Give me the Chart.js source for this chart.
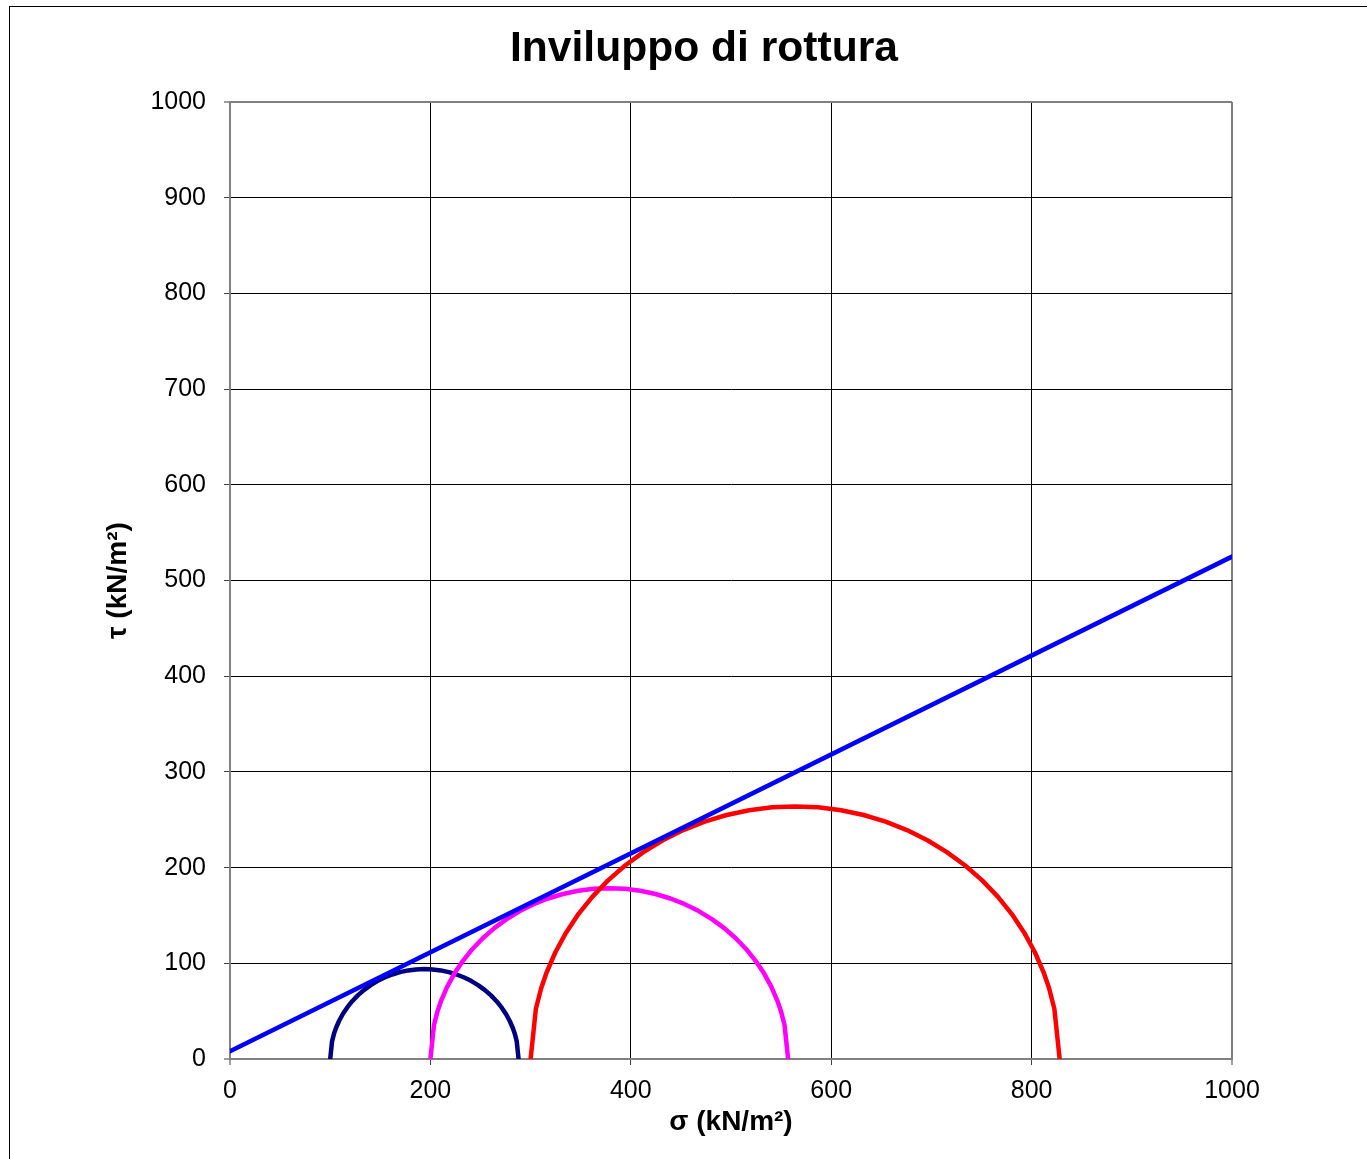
<!DOCTYPE html>
<html>
<head>
<meta charset="utf-8">
<script src="https://cdn.jsdelivr.net/npm/chart.js@4/dist/chart.umd.min.js"></script>
<style>
  html, body { margin: 0; padding: 0; background: #fff; }
  #wrap { position: relative; width: 1367px; height: 1159px; overflow: hidden; }
  #frame { position: absolute; left: 9px; top: 6px; width: 1400px; height: 1200px;
           border-left: 1px solid #000; border-top: 1px solid #000; pointer-events: none; }
  canvas { position: absolute; left: 0; top: 0; }
</style>
</head>
<body>
<div id="wrap">
  <canvas id="c" width="1367" height="1159"></canvas>
  <div id="frame"></div>
</div>
<script>
// ---- Data ----
const chartTitle = "Inviluppo di rottura";
const xAxisTitle = "σ (kN/m²)";
const yAxisTitle = "τ (kN/m²)";

const xTickValues = [0, 200, 400, 600, 800, 1000];
const yTickValues = [0, 100, 200, 300, 400, 500, 600, 700, 800, 900, 1000];

// Failure envelope (straight line)
const envelopeSigma = [0, 1000];
const envelopeTau   = [8, 525];

// Mohr circle 1 (navy): sigma3 = 100, sigma1 = 288
const circle1Sigma = [100, 101.88, 103.76, 105.67, 108.81, 112.59, 117.00, 121.99, 127.53, 133.58, 140.08, 147.00, 154.27, 161.85, 169.67, 177.68, 185.81, 194.00,
                      202.19, 210.32, 218.33, 226.15, 233.73, 241.00, 247.92, 254.42, 260.47, 266.01, 271.00, 275.41, 279.19, 282.33, 284.24, 286.12, 288];
const circle1Tau   = [0, 18.71, 26.32, 32.15, 39.73, 47.00, 53.92, 60.42, 66.47, 72.01, 77.00, 81.41, 85.19, 88.33, 90.80, 92.57, 93.64, 94.00,
                      93.64, 92.57, 90.80, 88.33, 85.19, 81.41, 77.00, 72.01, 66.47, 60.42, 53.92, 47.00, 39.73, 32.15, 26.32, 18.71, 0];

// Mohr circle 2 (magenta): sigma3 = 200, sigma1 = 557
const circle2Sigma = [200, 203.57, 207.14, 210.77, 216.72, 223.91, 232.28, 241.76, 252.28, 263.76, 276.12, 289.25, 303.06, 317.45, 332.30, 347.50, 362.94, 378.50,
                      394.06, 409.50, 424.70, 439.55, 453.94, 467.75, 480.88, 493.24, 504.72, 515.24, 524.72, 533.09, 540.28, 546.23, 549.86, 553.43, 557];
const circle2Tau   = [0, 35.52, 49.98, 61.05, 75.44, 89.25, 102.38, 114.74, 126.22, 136.74, 146.22, 154.59, 161.78, 167.73, 172.42, 175.79, 177.82, 178.50,
                      177.82, 175.79, 172.42, 167.73, 161.78, 154.59, 146.22, 136.74, 126.22, 114.74, 102.38, 89.25, 75.44, 61.05, 49.98, 35.52, 0];

// Mohr circle 3 (red): sigma3 = 300, sigma1 = 828
const circle3Sigma = [300, 305.28, 310.56, 315.92, 324.73, 335.37, 347.74, 361.77, 377.32, 394.30, 412.57, 432.00, 452.43, 473.71, 495.67, 518.16, 540.99, 564.00,
                      587.01, 609.84, 632.33, 654.29, 675.57, 696.00, 715.43, 733.70, 750.68, 766.23, 780.26, 792.63, 803.27, 812.08, 817.44, 822.72, 828];
const circle3Tau   = [0, 52.54, 73.92, 90.29, 111.57, 132.00, 151.43, 169.70, 186.68, 202.23, 216.26, 228.63, 239.27, 248.08, 255.01, 259.99, 262.99, 264.00,
                      262.99, 259.99, 255.01, 248.08, 239.27, 228.63, 216.26, 202.23, 186.68, 169.70, 151.43, 132.00, 111.57, 90.29, 73.92, 52.54, 0];

// ---- Build chart ----
function pts(xs, ys) { return xs.map((x, i) => ({ x: x, y: ys[i] })); }

const FONT = '"Liberation Sans", Arial, Helvetica, sans-serif';

function series(xs, ys, color) {
  return {
    data: pts(xs, ys),
    showLine: true,
    borderColor: color,
    backgroundColor: color,
    borderWidth: 4.5,
    pointRadius: 0,
    pointHoverRadius: 0,
    tension: 0,
    fill: false,
    borderCapStyle: 'round',
    borderJoinStyle: 'round'
  };
}

const edgeColor = (lim) => (ctx) => (ctx.tick && (ctx.tick.value === 0 || ctx.tick.value === lim)) ? '#808080' : '#000000';
const edgeWidth = (lim) => (ctx) => (ctx.tick && (ctx.tick.value === 0 || ctx.tick.value === lim)) ? 2 : 1;

// Centre the chart title over the whole figure (not only the plot column)
const titleCentre = {
  id: 'titleCentre',
  afterLayout(chart) {
    const tb = chart.titleBlock;
    if (tb) { tb.left = 0; tb.right = 1408; tb.width = 1408; }
  }
};

new Chart(document.getElementById('c'), {
  type: 'scatter',
  data: {
    datasets: [
      series(envelopeSigma, envelopeTau, '#0000FF'),
      series(circle3Sigma, circle3Tau, '#FF0000'),
      series(circle2Sigma, circle2Tau, '#FF00FF'),
      series(circle1Sigma, circle1Tau, '#000080')
    ]
  },
  plugins: [titleCentre],
  options: {
    responsive: false,
    animation: false,
    devicePixelRatio: 1,
    layout: { padding: { left: 0, right: 135, top: 0, bottom: 0 } },
    plugins: {
      legend: { display: false },
      tooltip: { enabled: false },
      title: {
        display: true,
        text: chartTitle,
        color: '#000',
        font: { family: FONT, size: 42.6, weight: 'bold', lineHeight: 1.2 },
        padding: { top: 24, bottom: 27 }
      }
    },
    scales: {
      x: {
        type: 'linear',
        min: 0, max: 1000,
        afterBuildTicks: (s) => { s.ticks = xTickValues.map(v => ({ value: v })); },
        afterFit: (s) => { s.height = 100; },
        ticks: {
          color: '#000',
          padding: 11,
          maxRotation: 0,
          font: { family: FONT, size: 25 },
          callback: (v) => String(v)
        },
        grid: {
          color: edgeColor(1000),
          lineWidth: edgeWidth(1000),
          tickLength: 6,
          tickColor: '#404040',
          tickWidth: 1,
          drawTicks: true
        },
        border: { display: true, color: '#808080', width: 2 },
        title: {
          display: true,
          text: xAxisTitle,
          color: '#000',
          font: { family: FONT, size: 28, weight: 'bold', lineHeight: 1.2 },
          padding: { top: 0, bottom: 20 }
        }
      },
      y: {
        type: 'linear',
        min: 0, max: 1000,
        afterBuildTicks: (s) => { s.ticks = yTickValues.map(v => ({ value: v })); },
        afterFit: (s) => { s.width = 230; },
        ticks: {
          color: '#000',
          padding: 18,
          font: { family: FONT, size: 25 },
          callback: (v) => String(v)
        },
        grid: {
          color: edgeColor(1000),
          lineWidth: edgeWidth(1000),
          tickLength: 6,
          tickColor: '#404040',
          tickWidth: 1,
          drawTicks: true
        },
        border: { display: true, color: '#808080', width: 2 },
        title: {
          display: true,
          text: yAxisTitle,
          color: '#000',
          font: { family: FONT, size: 28, weight: 'bold', lineHeight: 1.2 },
          padding: { top: 101, bottom: 0 }
        }
      }
    }
  }
});
</script>
</body>
</html>
